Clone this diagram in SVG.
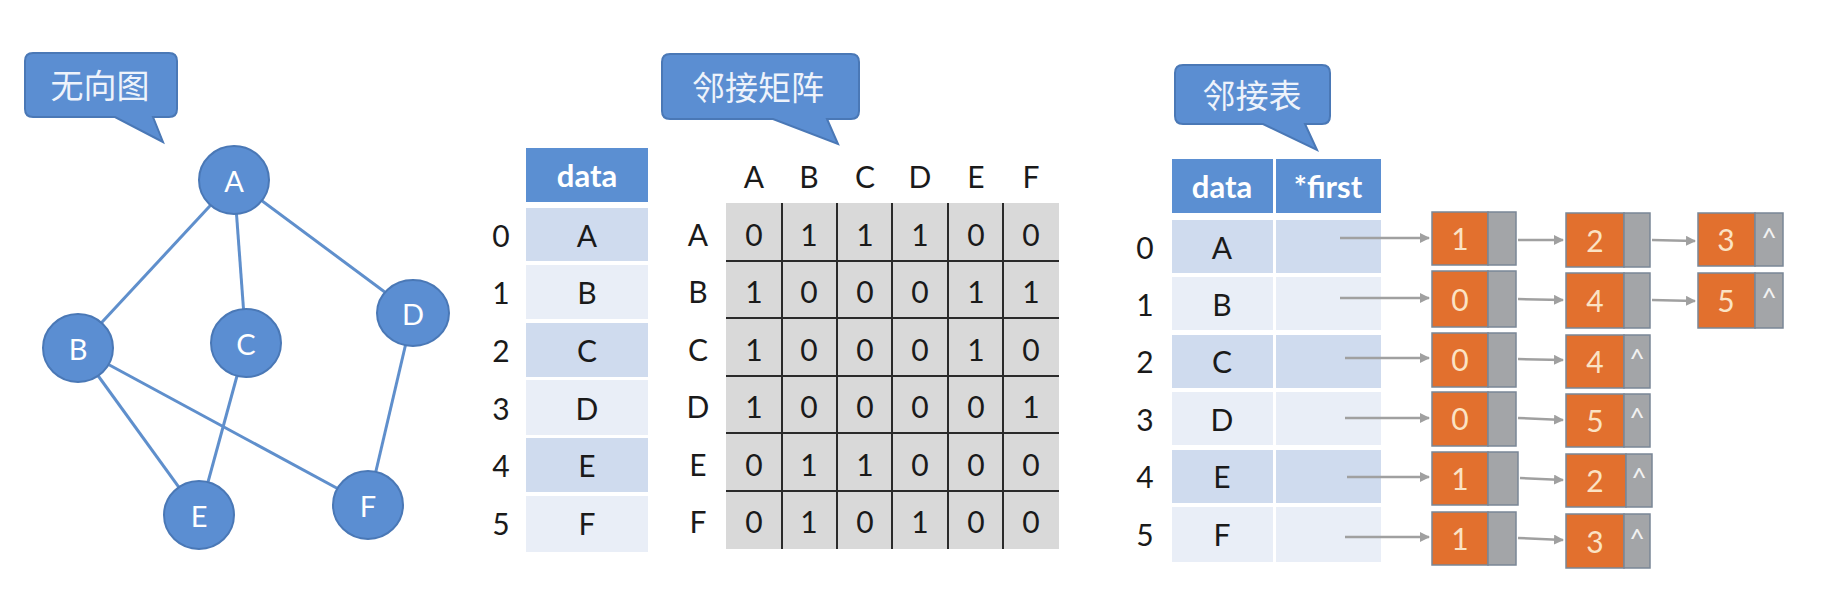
<svg xmlns="http://www.w3.org/2000/svg" width="1842" height="606" viewBox="0 0 1842 606">
<style>
.bub{fill:#5b8ed2;stroke:#4a78b6;stroke-width:2}
.bubt{font-family:"Noto Sans CJK SC",sans-serif;font-size:33px;fill:#eef3fb;text-anchor:middle;dominant-baseline:central}
.gn{fill:#5b8ed2;stroke:#4a78b6;stroke-width:2}
.gnt{font-family:Lato,"Liberation Sans",sans-serif;font-size:29px;fill:#ffffff;text-anchor:middle;dominant-baseline:central}
.edge{stroke:#5f8fcc;stroke-width:3;fill:none}
.hdr{fill:#5b8fd2}
.hdrt{font-family:Lato,"Liberation Sans",sans-serif;font-size:31px;font-weight:bold;fill:#ffffff;text-anchor:middle;dominant-baseline:central}
.rd{fill:#cfdbee}
.rl{fill:#e9eef7}
.t{font-family:Lato,"Liberation Sans",sans-serif;font-size:30px;fill:#1a1a1a;text-anchor:middle;dominant-baseline:central}
.grid{fill:#d9d9d9}
.gl{stroke:#2a2a2a;stroke-width:2}
.or{fill:#e2702e;stroke:#7a8796;stroke-width:1.5}
.gr{fill:#a3a5a8;stroke:#7a8796;stroke-width:1.5}
.ot{font-family:Lato,"Liberation Sans",sans-serif;font-size:30px;fill:#fbe3c4;text-anchor:middle;dominant-baseline:central}
.nt{font-family:Lato,"Liberation Sans",sans-serif;font-size:27px;fill:#f2f2f2;text-anchor:middle;dominant-baseline:central}
.arr{stroke:#a0a0a0;stroke-width:2.5;fill:none;marker-end:url(#ah)}
</style>
<defs>
<marker id="ah" markerWidth="10" markerHeight="10" refX="9" refY="5" orient="auto" markerUnits="userSpaceOnUse">
<path d="M0,0 L10,5 L0,10 Z" fill="#a0a0a0"/>
</marker>
</defs>
<rect width="1842" height="606" fill="#ffffff"/>

<!-- Bubbles -->
<g id="bubble-undirected">
<path class="bub" d="M33,53 H169 Q177,53 177,61 V109 Q177,117 169,117 H153 L163,142 L115,117 H33 Q25,117 25,109 V61 Q25,53 33,53 Z"/>
<text class="bubt" x="100" y="84">无向图</text>
</g>
<g id="bubble-matrix">
<path class="bub" d="M670,54 H851 Q859,54 859,62 V111 Q859,119 851,119 H827 L838,144 L773,119 H670 Q662,119 662,111 V62 Q662,54 670,54 Z"/>
<text class="bubt" x="758" y="86">邻接矩阵</text>
</g>
<g id="bubble-list">
<path class="bub" d="M1183,65 H1322 Q1330,65 1330,73 V116 Q1330,124 1322,124 H1305 L1317,150 L1263,124 H1183 Q1175,124 1175,116 V73 Q1175,65 1183,65 Z"/>
<text class="bubt" x="1252" y="94">邻接表</text>
</g>

<!-- Graph -->
<g id="connectors">
<line class="edge" x1="234" y1="180" x2="78" y2="348"/>
<line class="edge" x1="234" y1="180" x2="246" y2="343"/>
<line class="edge" x1="234" y1="180" x2="413" y2="313"/>
<line class="edge" x1="78" y1="348" x2="199" y2="515"/>
<line class="edge" x1="78" y1="348" x2="368" y2="505"/>
<line class="edge" x1="246" y1="343" x2="199" y2="515"/>
<line class="edge" x1="413" y1="313" x2="368" y2="505"/>
</g>
<g id="node-A"><ellipse class="gn" cx="234" cy="180" rx="35" ry="34"/><text class="gnt" x="234" y="180">A</text></g>
<g id="node-B"><ellipse class="gn" cx="78" cy="348" rx="35" ry="34"/><text class="gnt" x="78" y="348">B</text></g>
<g id="node-C"><ellipse class="gn" cx="246" cy="343" rx="35" ry="34"/><text class="gnt" x="246" y="343">C</text></g>
<g id="node-D"><ellipse class="gn" cx="413" cy="313" rx="36" ry="33"/><text class="gnt" x="413" y="313">D</text></g>
<g id="node-E"><ellipse class="gn" cx="199" cy="515" rx="35" ry="34"/><text class="gnt" x="199" y="515">E</text></g>
<g id="node-F"><ellipse class="gn" cx="368" cy="505" rx="35" ry="34"/><text class="gnt" x="368" y="505">F</text></g>

<!-- Vertex data table -->
<g id="vertex-table">
<rect class="hdr" x="526" y="148" width="122" height="54"/>
<text class="hdrt" x="587" y="175">data</text>
<rect class="rd" x="526" y="208" width="122" height="53"/>
<rect class="rl" x="526" y="265" width="122" height="54"/>
<rect class="rd" x="526" y="323" width="122" height="54"/>
<rect class="rl" x="526" y="380" width="122" height="55"/>
<rect class="rd" x="526" y="438" width="122" height="54"/>
<rect class="rl" x="526" y="496" width="122" height="56"/>
<text class="t" x="501" y="235">0</text><text class="t" x="587" y="235">A</text>
<text class="t" x="501" y="292">1</text><text class="t" x="587" y="292">B</text>
<text class="t" x="501" y="350">2</text><text class="t" x="587" y="350">C</text>
<text class="t" x="501" y="408">3</text><text class="t" x="587" y="408">D</text>
<text class="t" x="501" y="465">4</text><text class="t" x="587" y="465">E</text>
<text class="t" x="501" y="523">5</text><text class="t" x="587" y="523">F</text>
</g>

<!-- Adjacency matrix -->
<g id="matrix">
<rect class="grid" x="726" y="203" width="333" height="346"/>
<line class="gl" x1="782" y1="203" x2="782" y2="549"/>
<line class="gl" x1="837" y1="203" x2="837" y2="549"/>
<line class="gl" x1="892" y1="203" x2="892" y2="549"/>
<line class="gl" x1="948" y1="203" x2="948" y2="549"/>
<line class="gl" x1="1003" y1="203" x2="1003" y2="549"/>
<line class="gl" x1="726" y1="261" x2="1059" y2="261"/>
<line class="gl" x1="726" y1="318" x2="1059" y2="318"/>
<line class="gl" x1="726" y1="376" x2="1059" y2="376"/>
<line class="gl" x1="726" y1="433" x2="1059" y2="433"/>
<line class="gl" x1="726" y1="491" x2="1059" y2="491"/>
<text class="t" x="754" y="176">A</text><text class="t" x="809" y="176">B</text><text class="t" x="865" y="176">C</text><text class="t" x="920" y="176">D</text><text class="t" x="976" y="176">E</text><text class="t" x="1031" y="176">F</text>
<text class="t" x="698" y="234">A</text><text class="t" x="698" y="291">B</text><text class="t" x="698" y="349">C</text><text class="t" x="698" y="406">D</text><text class="t" x="698" y="464">E</text><text class="t" x="698" y="521">F</text>
<text class="t" x="754" y="234">0</text><text class="t" x="809" y="234">1</text><text class="t" x="865" y="234">1</text><text class="t" x="920" y="234">1</text><text class="t" x="976" y="234">0</text><text class="t" x="1031" y="234">0</text>
<text class="t" x="754" y="291">1</text><text class="t" x="809" y="291">0</text><text class="t" x="865" y="291">0</text><text class="t" x="920" y="291">0</text><text class="t" x="976" y="291">1</text><text class="t" x="1031" y="291">1</text>
<text class="t" x="754" y="349">1</text><text class="t" x="809" y="349">0</text><text class="t" x="865" y="349">0</text><text class="t" x="920" y="349">0</text><text class="t" x="976" y="349">1</text><text class="t" x="1031" y="349">0</text>
<text class="t" x="754" y="406">1</text><text class="t" x="809" y="406">0</text><text class="t" x="865" y="406">0</text><text class="t" x="920" y="406">0</text><text class="t" x="976" y="406">0</text><text class="t" x="1031" y="406">1</text>
<text class="t" x="754" y="464">0</text><text class="t" x="809" y="464">1</text><text class="t" x="865" y="464">1</text><text class="t" x="920" y="464">0</text><text class="t" x="976" y="464">0</text><text class="t" x="1031" y="464">0</text>
<text class="t" x="754" y="521">0</text><text class="t" x="809" y="521">1</text><text class="t" x="865" y="521">0</text><text class="t" x="920" y="521">1</text><text class="t" x="976" y="521">0</text><text class="t" x="1031" y="521">0</text>
</g>

<!-- Adjacency list head table -->
<g id="list-table">
<rect class="hdr" x="1172" y="159" width="101" height="54"/>
<rect class="hdr" x="1276" y="159" width="105" height="54"/>
<text class="hdrt" x="1222" y="186">data</text>
<text class="hdrt" x="1328" y="186">*first</text>
<rect class="rd" x="1172" y="220" width="101" height="53"/><rect class="rd" x="1276" y="220" width="105" height="53"/>
<rect class="rl" x="1172" y="277" width="101" height="53"/><rect class="rl" x="1276" y="277" width="105" height="53"/>
<rect class="rd" x="1172" y="335" width="101" height="53"/><rect class="rd" x="1276" y="335" width="105" height="53"/>
<rect class="rl" x="1172" y="392" width="101" height="53"/><rect class="rl" x="1276" y="392" width="105" height="53"/>
<rect class="rd" x="1172" y="450" width="101" height="53"/><rect class="rd" x="1276" y="450" width="105" height="53"/>
<rect class="rl" x="1172" y="507" width="101" height="55"/><rect class="rl" x="1276" y="507" width="105" height="55"/>
<text class="t" x="1145" y="247">0</text><text class="t" x="1222" y="247">A</text>
<text class="t" x="1145" y="304">1</text><text class="t" x="1222" y="304">B</text>
<text class="t" x="1145" y="361">2</text><text class="t" x="1222" y="361">C</text>
<text class="t" x="1145" y="419">3</text><text class="t" x="1222" y="419">D</text>
<text class="t" x="1145" y="476">4</text><text class="t" x="1222" y="476">E</text>
<text class="t" x="1145" y="534">5</text><text class="t" x="1222" y="534">F</text>
</g>

<!-- Edge list nodes -->
<g id="list-0">
<rect class="or" x="1432" y="212" width="56" height="53"/><rect class="gr" x="1488" y="212" width="28" height="53"/><text class="ot" x="1460" y="238">1</text>
<rect class="or" x="1566" y="213" width="58" height="54"/><rect class="gr" x="1624" y="213" width="26" height="54"/><text class="ot" x="1595" y="240">2</text>
<rect class="or" x="1698" y="213" width="57" height="53"/><rect class="gr" x="1755" y="213" width="28" height="53"/><text class="ot" x="1726" y="239">3</text><text class="nt" x="1769" y="236">^</text>
</g>
<g id="list-1">
<rect class="or" x="1432" y="271" width="56" height="56"/><rect class="gr" x="1488" y="271" width="28" height="56"/><text class="ot" x="1460" y="299">0</text>
<rect class="or" x="1566" y="273" width="58" height="55"/><rect class="gr" x="1624" y="273" width="26" height="55"/><text class="ot" x="1595" y="300">4</text>
<rect class="or" x="1698" y="273" width="57" height="55"/><rect class="gr" x="1755" y="273" width="28" height="55"/><text class="ot" x="1726" y="300">5</text><text class="nt" x="1769" y="296">^</text>
</g>
<g id="list-2">
<rect class="or" x="1432" y="333" width="56" height="54"/><rect class="gr" x="1488" y="333" width="28" height="54"/><text class="ot" x="1460" y="359">0</text>
<rect class="or" x="1566" y="335" width="58" height="53"/><rect class="gr" x="1624" y="335" width="26" height="53"/><text class="ot" x="1595" y="361">4</text><text class="nt" x="1637" y="357">^</text>
</g>
<g id="list-3">
<rect class="or" x="1432" y="392" width="56" height="54"/><rect class="gr" x="1488" y="392" width="28" height="54"/><text class="ot" x="1460" y="418">0</text>
<rect class="or" x="1566" y="394" width="58" height="53"/><rect class="gr" x="1624" y="394" width="26" height="53"/><text class="ot" x="1595" y="420">5</text><text class="nt" x="1637" y="416">^</text>
</g>
<g id="list-4">
<rect class="or" x="1432" y="452" width="56" height="53"/><rect class="gr" x="1488" y="452" width="30" height="53"/><text class="ot" x="1460" y="478">1</text>
<rect class="or" x="1566" y="454" width="60" height="53"/><rect class="gr" x="1626" y="454" width="26" height="53"/><text class="ot" x="1595" y="480">2</text><text class="nt" x="1639" y="476">^</text>
</g>
<g id="list-5">
<rect class="or" x="1432" y="512" width="56" height="53"/><rect class="gr" x="1488" y="512" width="28" height="53"/><text class="ot" x="1460" y="538">1</text>
<rect class="or" x="1566" y="514" width="58" height="54"/><rect class="gr" x="1624" y="514" width="26" height="54"/><text class="ot" x="1595" y="541">3</text><text class="nt" x="1637" y="537">^</text>
</g>

<g id="list-connectors">
<line class="arr" x1="1340" y1="238" x2="1429" y2="238"/>
<line class="arr" x1="1340" y1="298" x2="1429" y2="298"/>
<line class="arr" x1="1345" y1="358" x2="1429" y2="358"/>
<line class="arr" x1="1345" y1="418" x2="1429" y2="418"/>
<line class="arr" x1="1347" y1="477" x2="1429" y2="477"/>
<line class="arr" x1="1345" y1="537" x2="1429" y2="537"/>
<line class="arr" x1="1518" y1="240" x2="1563" y2="240"/>
<line class="arr" x1="1518" y1="299" x2="1563" y2="300"/>
<line class="arr" x1="1518" y1="359" x2="1563" y2="360"/>
<line class="arr" x1="1518" y1="418" x2="1563" y2="420"/>
<line class="arr" x1="1520" y1="478" x2="1563" y2="480"/>
<line class="arr" x1="1518" y1="538" x2="1563" y2="540"/>
<line class="arr" x1="1652" y1="240" x2="1695" y2="241"/>
<line class="arr" x1="1652" y1="300" x2="1695" y2="301"/>
</g>
</svg>
